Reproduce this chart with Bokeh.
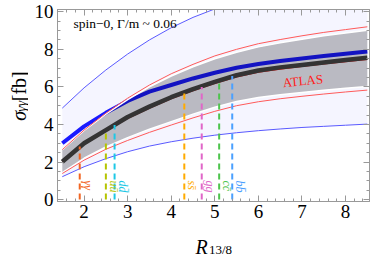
from bokeh.plotting import figure
from bokeh.models import Label, LinearAxis, SingleIntervalTicker, ColumnDataSource, Range1d
from bokeh.layouts import column, row
from bokeh.embed import file_html
from bokeh.resources import INLINE
from bokeh.core.properties import value
import math

# ---- data ----
r_grid = [1.5, 2.0, 2.5, 3.0, 3.5, 4.0, 4.5, 5.0, 5.5, 6.0, 6.5, 7.0, 7.5, 8.0, 8.5]

cms_lo = [1.22, 1.75, 2.18, 2.55, 2.85, 3.08, 3.27, 3.43, 3.56, 3.67, 3.76, 3.84, 3.90, 3.96, 4.02]
cms_hi = [4.87, 5.95, 6.90, 7.75, 8.50, 9.15, 9.70, 10.15, 10.55, 10.90, 11.20, 11.45, 11.70, 11.90, 12.10]
cms_mid = [3.00, 3.90, 4.62, 5.25, 5.75, 6.10, 6.45, 6.75, 7.02, 7.22, 7.38, 7.51, 7.64, 7.77, 7.88]

comb_mid = [2.02, 3.00, 3.70, 4.40, 4.95, 5.45, 5.88, 6.27, 6.62, 6.87, 7.04, 7.17, 7.30, 7.43, 7.55]
comb_lo = [1.44, 2.20, 2.80, 3.30, 3.75, 4.15, 4.55, 4.92, 5.22, 5.43, 5.58, 5.70, 5.82, 5.93, 6.02]
comb_hi = [2.66, 3.68, 4.55, 5.32, 6.00, 6.58, 7.07, 7.50, 7.84, 8.13, 8.35, 8.54, 8.72, 8.87, 9.01]

atlas_mid = [1.98, 2.94, 3.64, 4.32, 4.87, 5.37, 5.80, 6.19, 6.53, 6.78, 6.95, 7.09, 7.22, 7.35, 7.46]
atlas_lo = [1.39, 2.10, 2.68, 3.15, 3.58, 3.97, 4.35, 4.70, 5.00, 5.21, 5.37, 5.50, 5.62, 5.73, 5.83]
atlas_hi = [2.66, 3.70, 4.60, 5.40, 6.10, 6.70, 7.20, 7.65, 8.00, 8.30, 8.52, 8.72, 8.90, 9.05, 9.20]

channels = ["γγ", "uū", "dd̄", "ss̄", "gg", "cc̄", "bb̄"]
channel_r = [1.9, 2.5, 2.7, 4.3, 4.7, 5.1, 5.4]
channel_sigma = [2.83, 3.66, 3.97, 5.74, 6.00, 6.37, 6.58]
channel_colors = ["#f26522", "#b5c400", "#1ec8e6", "#ffab00", "#e066c8", "#4cc44c", "#4aa0ff"]

SERIF = "Liberation Serif"
GREY = "#999999"

# ---------------- main plot ----------------
p = figure(width=346, height=226,
           x_range=Range1d(1.39, 8.55), y_range=Range1d(-0.1, 10.12),
           output_backend="svg", toolbar_location=None,
           min_border_left=29, min_border_right=5, min_border_top=9, min_border_bottom=25)
p.background_fill_color = "white"
p.border_fill_color = "white"
p.outline_line_color = GREY
p.grid.visible = False


def style_axis(ax, interval, minor, labels):
    ax.ticker = SingleIntervalTicker(interval=interval, num_minor_ticks=minor)
    ax.axis_line_color = GREY
    ax.major_tick_line_color = GREY
    ax.minor_tick_line_color = GREY
    ax.major_tick_in = 6
    ax.major_tick_out = 0
    ax.minor_tick_in = 3
    ax.minor_tick_out = 0
    if labels:
        ax.major_label_text_font = SERIF
        ax.major_label_text_font_size = "19px"
        ax.major_label_text_color = "black"
    else:
        ax.major_label_text_font_size = "0px"
        ax.major_label_text_color = None
        ax.major_label_standoff = 0


style_axis(p.xaxis[0], 1, 5, True)
style_axis(p.yaxis[0], 2, 4, True)
p.xaxis[0].major_label_standoff = 3
p.yaxis[0].major_label_standoff = 4

top_ax = LinearAxis()
style_axis(top_ax, 1, 5, False)
p.add_layout(top_ax, "above")
right_ax = LinearAxis()
style_axis(right_ax, 2, 4, False)
p.add_layout(right_ax, "right")

# CMS band
p.varea(x=r_grid, y1=cms_lo, y2=cms_hi, fill_color="#f5f5ff")
p.line(r_grid, cms_lo, line_color="#5a5aff", line_width=1)
p.line(r_grid, cms_hi, line_color="#5a5aff", line_width=1)
p.line(r_grid, cms_mid, line_color="#1a1aff", line_width=4)

# combined grey band
p.varea(x=r_grid, y1=comb_lo, y2=comb_hi, fill_color="black", fill_alpha=0.24)
p.line(r_grid, comb_lo, line_color="white", line_width=1.5)
p.line(r_grid, comb_hi, line_color="white", line_width=1.5)

# ATLAS lines
p.line(r_grid, atlas_lo, line_color="#ff5a5a", line_width=1)
p.line(r_grid, atlas_hi, line_color="#ff5a5a", line_width=1)
p.line(r_grid, atlas_mid, line_color="#e01010", line_width=1.2)
p.line(r_grid, comb_mid, line_color="#343434", line_width=4.5)

# channels
src = ColumnDataSource(dict(x=channel_r, top=channel_sigma, text=channels, color=channel_colors))
p.segment(x0="x", y0=0, x1="x", y1="top", line_color="color", line_width=2,
          line_dash="6 4", source=src)
p.text(x="x", y=1.02, text="text", text_color="color", source=src, angle=-math.pi / 2,
       text_align="left", text_baseline="bottom", x_offset=1,
       text_font=value(SERIF), text_font_style="italic", text_font_size="12px")

# annotations
p.add_layout(Label(x=1.757, y=9.40, text="spin−0,  Γ/m ~ 0.06", text_font=SERIF,
                   text_font_size="13.5px", text_color="black", text_baseline="middle"))
p.add_layout(Label(x=7.02, y=6.33, text="ATLAS", text_font=SERIF, text_font_size="13px",
                   text_color="#ff1a1a", text_align="center", text_baseline="middle", angle=0.1))


# ---------------- axis-title strips (pixel coordinates) ----------------
def strip(w, h):
    f = figure(width=w, height=h, x_range=Range1d(0, w), y_range=Range1d(0, h),
               x_axis_type=None, y_axis_type=None, output_backend="svg",
               toolbar_location=None, min_border=0)
    f.outline_line_color = None
    f.background_fill_color = "white"
    f.border_fill_color = "white"
    return f


ylab = strip(28, 226)
ylab.text(x=[18], y=[95], text=["σ"], angle=math.pi / 2, text_align="left",
          text_baseline="alphabetic", text_font=value(SERIF), text_font_style="italic",
          text_font_size="20px", text_color="black")
ylab.text(x=[21], y=[105.5], text=["γγ"], angle=math.pi / 2, text_align="left",
          text_baseline="alphabetic", text_font=value(SERIF), text_font_style="italic",
          text_font_size="14px", text_color="black")
ylab.text(x=[18], y=[118], text=["[fb]"], angle=math.pi / 2, text_align="left",
          text_baseline="alphabetic", text_font=value(SERIF),
          text_font_size="20px", text_color="black")

xlab = strip(374, 32)
xlab.text(x=[195], y=[12], text=["R"], text_align="left", text_baseline="alphabetic",
          text_font=value(SERIF), text_font_style="italic", text_font_size="20px",
          text_color="black")
xlab.text(x=[208.5], y=[9], text=["13/8"], text_align="left", text_baseline="alphabetic",
          text_font=value(SERIF), text_font_size="13px", text_color="black")

layout = column(row(ylab, p, spacing=0), xlab, spacing=0)
open("out.html", "w").write(file_html(layout, INLINE))
